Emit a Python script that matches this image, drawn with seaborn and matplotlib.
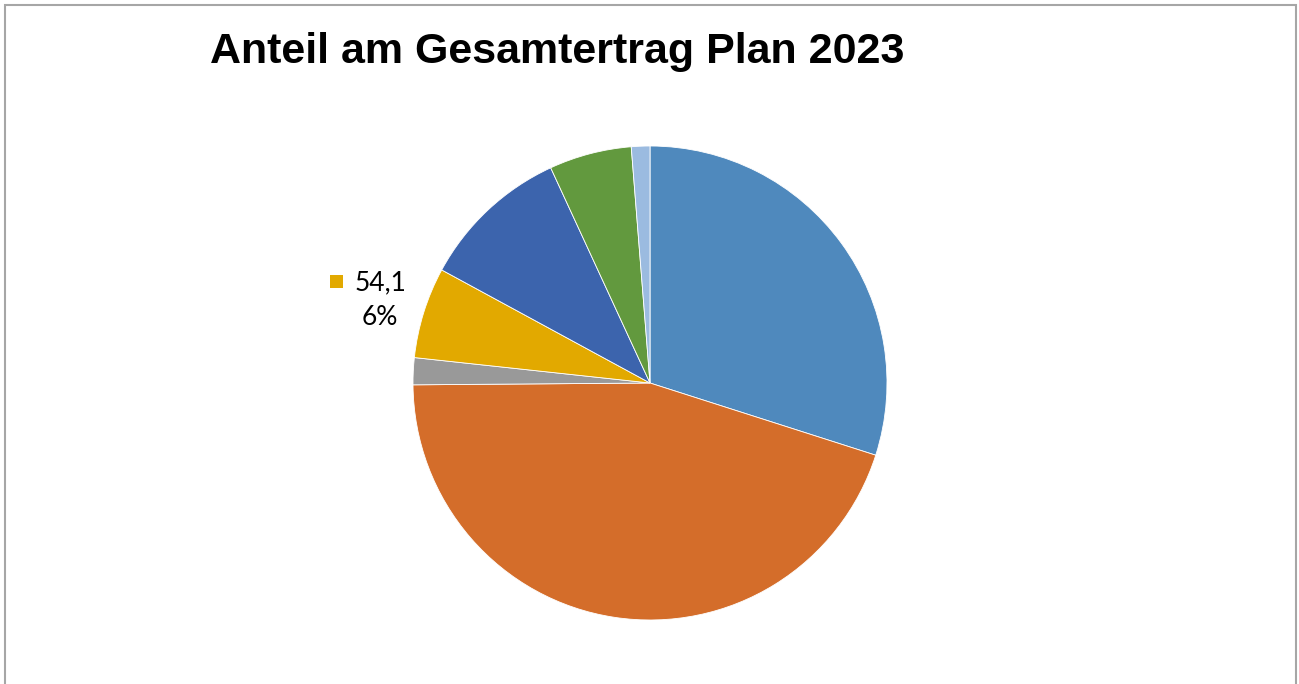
import matplotlib
matplotlib.use("Agg")
import matplotlib.pyplot as plt
from matplotlib.patches import Rectangle
import seaborn as sns

# Ertragsanteile Plan 2023 (clockwise from 12 o'clock)
categories = ["A", "B", "C", "D", "E", "F", "G"]
values = [261, 392, 16, 54.1, 89, 49, 11]
colors = ["#4F89BD", "#D46D2A", "#999999", "#E2A900", "#3C64AD", "#62993E", "#9BBBE0"]
title = "Anteil am Gesamtertrag Plan 2023"
labeled_index = 3

sns.set_theme(style="white")
plt.rcParams["font.family"] = ["Liberation Sans", "DejaVu Sans"]

W, H = 1299, 684
fig = plt.figure(figsize=(W / 100, H / 100), dpi=100)
fig.patch.set_facecolor("white")

# outer chart frame
fig.patches.append(Rectangle((5 / W, -0.05), (1296 - 5) / W, 1.05 - 5 / H,
                             transform=fig.transFigure, fill=False,
                             edgecolor="#A6A6A6", linewidth=1.5))

cx, cy, r = 650, 383, 237
ax = fig.add_axes([(cx - r) / W, (H - cy - r) / H, 2 * r / W, 2 * r / H])
wedges, _ = ax.pie(values, colors=colors, startangle=90, counterclock=False,
                   radius=1.0, wedgeprops=dict(edgecolor="white", linewidth=0.6))
ax.set_xlim(-1, 1)
ax.set_ylim(-1, 1)
ax.axis("off")

fig.text(557 / W, 1 - 52 / H, title, ha="center", va="center",
         fontsize=31, fontweight="bold", color="black")

# data label for the yellow slice
total = sum(values)
v = values[labeled_index]
pct = round(v / total * 100)
fig.text(380 / W, 1 - 300 / H, f"{v:.1f}".replace(".", ",") + f"\n{pct}%",
         ha="center", va="center", fontsize=19, color="black",
         family=["Lato", "DejaVu Sans"], linespacing=1.5)
fig.patches.append(Rectangle((330 / W, 1 - 288 / H), 13 / W, 13 / H,
                             transform=fig.transFigure,
                             facecolor=colors[labeled_index], edgecolor="none"))

fig.savefig("out.png", dpi=100)
